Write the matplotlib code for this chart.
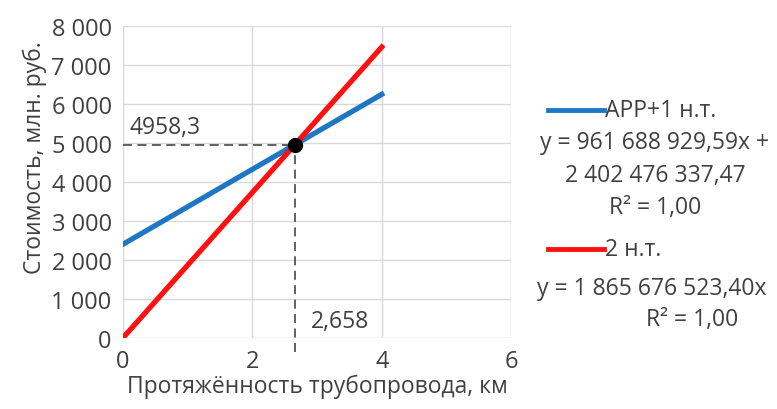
import matplotlib.pyplot as plt

plt.rcParams['font.family'] = ['Open Sans', 'DejaVu Sans']

# data
km = [0, 1, 2, 3, 4]
app_cost = [2402.5, 3364.2, 4325.9, 5287.5, 6249.2]
nt2_cost = [0, 1865.7, 3731.4, 5597.0, 7462.7]
cross_x = 2.658
cross_y = 4958.3

txt = '#404040'
fs = 16.5

fig = plt.figure(figsize=(7.77, 4.10), dpi=100)
ax = fig.add_axes([0.158, 0.173, 0.5, 0.761])

ax.plot(km, app_cost, color='#1f77c4', lw=3.8, zorder=3)
ax.plot(km, nt2_cost, color='#ff1010', lw=3.8, zorder=3)

# crossing point with guide lines
ax.plot([0, cross_x], [cross_y, cross_y], color='#555555', ls=(0, (5, 3)), lw=1.3, zorder=2)
ax.plot([cross_x, cross_x], [-350, cross_y], color='#555555', ls=(0, (5, 3)), lw=1.3,
        zorder=2, clip_on=False)
ax.plot([cross_x], [cross_y], 'o', color='black', ms=10, zorder=4)
ax.text(0.1, 5250, '4958,3', fontsize=fs, color=txt)
ax.text(2.9, 280, '2,658', fontsize=fs, color=txt)

ax.set_xlim(0, 6)
ax.set_ylim(0, 8000)
ax.set_xticks([0, 2, 4, 6])
ax.set_yticks(range(0, 8001, 1000))
ax.set_yticklabels(['0', '1 000', '2 000', '3 000', '4 000', '5 000', '6 000', '7 000', '8 000'])
ax.tick_params(labelsize=17, length=0, colors=txt, pad=8)
ax.grid(True, color='#d9d9d9', lw=1)
ax.set_axisbelow(True)
for s in ax.spines.values():
    s.set_visible(False)

ax.set_xlabel('Протяжённость трубопровода, км', fontsize=fs, color=txt, labelpad=0)
ax.set_ylabel('Стоимость, млн. руб.', fontsize=fs, color=txt)
ax.yaxis.set_label_coords(-0.195, 0.58)

# legend with equations
fig.add_artist(plt.Line2D([548 / 777, 604 / 777], [1 - 111 / 410, 1 - 111 / 410],
                          color='#1f77c4', lw=3.5))
fig.text(605 / 777, 1 - 111 / 410, 'АРР+1 н.т.', fontsize=fs, color=txt, va='center')
fig.text(655 / 777, 1 - 143 / 410, 'y = 961 688 929,59x +', fontsize=fs, color=txt,
         va='center', ha='center')
fig.text(655 / 777, 1 - 176 / 410, '2 402 476 337,47', fontsize=fs, color=txt,
         va='center', ha='center')
fig.text(655 / 777, 1 - 208 / 410, 'R² = 1,00', fontsize=fs, color=txt,
         va='center', ha='center')
fig.add_artist(plt.Line2D([548 / 777, 604 / 777], [1 - 250 / 410, 1 - 250 / 410],
                          color='#ff1010', lw=3.5))
fig.text(605 / 777, 1 - 250 / 410, '2 н.т.', fontsize=fs, color=txt, va='center')
fig.text(652 / 777, 1 - 289 / 410, 'y = 1 865 676 523,40x', fontsize=fs, color=txt,
         va='center', ha='center')
fig.text(692 / 777, 1 - 320 / 410, 'R² = 1,00', fontsize=fs, color=txt,
         va='center', ha='center')

fig.savefig('out.png', dpi=100)
